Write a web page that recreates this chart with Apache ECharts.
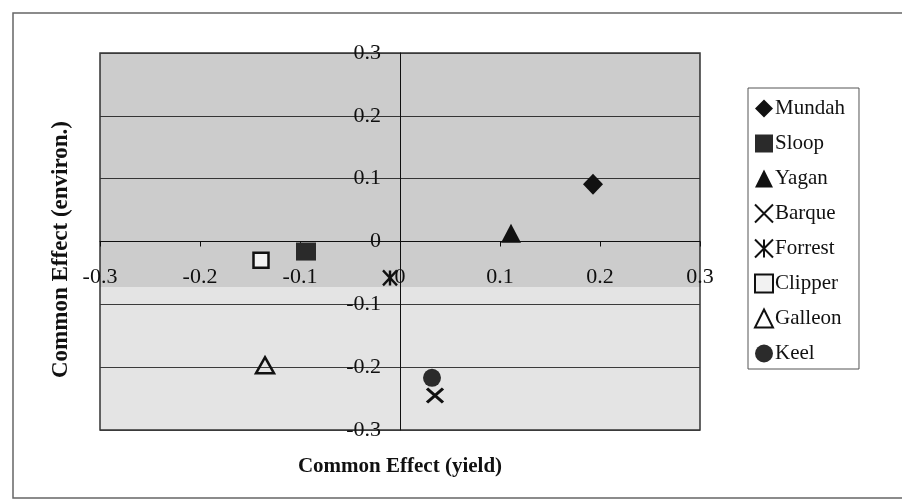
<!DOCTYPE html>
<html>
<head>
<meta charset="utf-8">
<script src="https://cdn.jsdelivr.net/npm/echarts@6/dist/echarts.min.js"></script>
<style>
  html, body { margin: 0; padding: 0; background: #ffffff; }
  #chart { width: 902px; height: 504px; }
</style>
</head>
<body>
<div id="chart"></div>
<script>
// Sites and their common effects
const siteNames = ['Mundah', 'Sloop', 'Yagan', 'Barque', 'Forrest', 'Clipper', 'Galleon', 'Keel'];
const yieldEffect = [0.193, -0.094, 0.111, 0.035, -0.010, -0.139, -0.135, 0.032];
const environEffect = [0.091, -0.016, 0.013, -0.245, -0.058, -0.030, -0.197, -0.217];
// Axis range and tick step shared by both axes
const axisMin = -0.3;
const axisMax = 0.3;
const axisStep = 0.1;

const font = 'Liberation Serif';
const ink = '#111111';

// Marker look for each site
const markerStyles = {
  Mundah:  { symbol: 'diamond', size: [20, 21], fill: ink, stroke: ink, width: 0 },
  Sloop:   { symbol: 'rect', size: [20, 18], fill: '#2a2a2a', stroke: ink, width: 0 },
  Yagan:   { symbol: 'triangle', size: [20, 19], fill: ink, stroke: ink, width: 0 },
  Barque:  { symbol: 'path://M0,0L10,10M10,0L0,10', size: [16, 14], fill: 'transparent', stroke: ink, width: 3 },
  Forrest: { symbol: 'path://M0,0L10,10M10,0L0,10M5,0L5,10', size: [14, 15], fill: 'transparent', stroke: ink, width: 2.5 },
  Clipper: { symbol: 'rect', size: [15, 15], fill: '#f2f2f2', stroke: ink, width: 2.5 },
  Galleon: { symbol: 'triangle', size: [18, 16], fill: 'transparent', stroke: ink, width: 2.5 },
  Keel:    { symbol: 'circle', size: 18, fill: '#2b2b2b', stroke: ink, width: 0 }
};

const series = siteNames.map(function (name, i) {
  const m = markerStyles[name];
  return {
    name: name,
    type: 'scatter',
    symbol: m.symbol,
    symbolSize: m.size,
    itemStyle: { color: m.fill, borderColor: m.stroke, borderWidth: m.width, opacity: 1 },
    data: [[yieldEffect[i], environEffect[i]]],
    z: 3
  };
});

const chart = echarts.init(document.getElementById('chart'), null, { renderer: 'canvas' });

chart.setOption({
  backgroundColor: '#ffffff',
  animation: false,
  textStyle: { fontFamily: font, color: ink },
  grid: {
    left: 100,
    right: 202,
    top: 53,
    bottom: 74,
    containLabel: false,
    outerBoundsMode: 'none',
    show: true,
    backgroundColor: '#e4e4e4',
    borderColor: '#333333',
    borderWidth: 1.5
  },
  graphic: [
    // outer chart frame
    {
      type: 'rect',
      shape: { x: 13, y: 13, width: 1000, height: 485 },
      style: { fill: 'none', stroke: '#666666', lineWidth: 1.5 },
      silent: true
    },
    // darker upper band of the plot area
    {
      type: 'rect',
      shape: { x: 100, y: 54, width: 600, height: 233 },
      style: { fill: 'rgba(0,0,0,0.1)' },
      z: 1,
      silent: true
    }
  ],
  xAxis: {
    type: 'value',
    min: axisMin,
    max: axisMax,
    interval: axisStep,
    name: 'Common Effect (yield)',
    nameLocation: 'middle',
    nameGap: 26,
    nameTextStyle: { fontFamily: font, fontWeight: 'bold', fontSize: 21, color: ink },
    axisLine: { show: true, onZero: true, lineStyle: { color: ink, width: 1 } },
    axisTick: { show: true, inside: false, length: 5, lineStyle: { color: ink } },
    // tick labels sit a little below the zero line
    axisLabel: { fontFamily: font, fontSize: 22, color: ink, margin: -164 },
    splitLine: { show: false }
  },
  yAxis: {
    type: 'value',
    min: axisMin,
    max: axisMax,
    interval: axisStep,
    name: 'Common Effect (environ.)',
    nameLocation: 'middle',
    nameGap: 27,
    nameRotate: 90,
    nameTextStyle: { fontFamily: font, fontWeight: 'bold', fontSize: 23, color: ink, padding: [0, 16, 0, 0] },
    axisLine: { show: true, onZero: true, lineStyle: { color: ink, width: 1 } },
    axisTick: { show: false },
    // tick labels sit just left of the zero line
    axisLabel: { fontFamily: font, fontSize: 22, color: ink, margin: -281 },
    splitLine: { show: true, lineStyle: { color: '#3a3a3a', width: 1 } }
  },
  legend: {
    orient: 'vertical',
    left: 748,
    top: 88,
    data: siteNames,
    itemWidth: 18,
    itemHeight: 18,
    itemGap: 14,
    padding: [10, 14, 5, 6],
    borderColor: '#555555',
    borderWidth: 1,
    backgroundColor: '#ffffff',
    textStyle: { fontFamily: font, fontSize: 21, color: ink, padding: [0, 0, 0, -3] }
  },
  series: series
});
</script>
</body>
</html>
